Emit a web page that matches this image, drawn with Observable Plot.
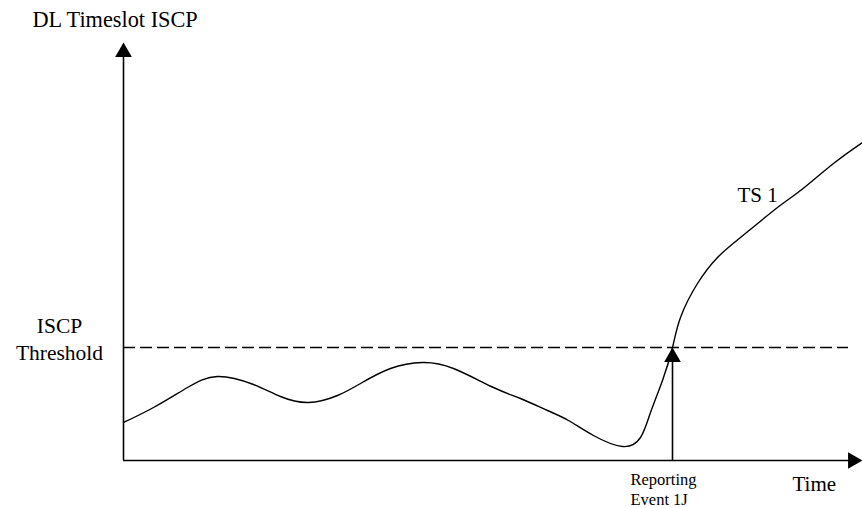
<!DOCTYPE html>
<html>
<head>
<meta charset="utf-8">
<script src="https://cdn.jsdelivr.net/npm/d3@7"></script>
<script src="https://cdn.jsdelivr.net/npm/@observablehq/plot@0.6"></script>
<style>
  html, body { margin: 0; padding: 0; background: #fff; }
  #chart svg { display: block; }
  #chart svg text { font-family: 'Liberation Serif', 'Times New Roman', serif; }
</style>
</head>
<body>
<div id="chart"></div>
<script>
// Time axis (arbitrary units) and DL timeslot ISCP (arbitrary units) for TS 1
const time = [0, 30, 64, 94, 130, 157, 185, 214, 237, 267, 299, 330, 370, 397, 424, 445, 470, 499, 517, 527, 539, 549, 557, 574, 594, 617, 654, 677, 710, 739];
const iscp = [38, 53, 73, 84, 76, 64, 58, 65, 77, 92, 98, 92, 73, 62, 50, 40, 25, 14, 23, 48, 80, 113, 143, 177, 203, 223, 253, 270, 297, 318];

const threshold = [113];       // ISCP threshold level
const thresholdEnd = [725];    // time where dashed line ends
const eventTime = [549];       // Reporting Event 1J
const axisEnd = {x: 739, y: 418};
const headLen = 9.6;           // centroid offset of arrow heads

const labels = {
  yTitle: "DL Timeslot ISCP",
  xTitle: "Time",
  threshold: "ISCP\nThreshold",
  series: "TS 1",
  event: "Reporting\nEvent 1J"
};

const curve = time.map((t, i) => ({t, v: iscp[i]}));
const font = "'Liberation Serif', 'Times New Roman', serif";

const plot = Plot.plot({
  width: 862,
  height: 508,
  margin: 0,
  x: {domain: [-123, 739], axis: null},
  y: {domain: [-48, 460], axis: null},
  style: {fontFamily: font, background: "#fff", color: "#000"},
  marks: [
    // axes
    Plot.ruleX([0], {y1: 0, y2: axisEnd.y - headLen, stroke: "#000", strokeWidth: 1.6}),
    Plot.ruleY([0], {x1: 0, x2: axisEnd.x - headLen, stroke: "#000", strokeWidth: 1.6}),
    Plot.dot([{x: 0, y: axisEnd.y - headLen}], {x: "x", y: "y", symbol: "triangle", r: 6.2, fill: "#000", stroke: null}),
    Plot.dot([{x: axisEnd.x - headLen, y: 0}], {x: "x", y: "y", symbol: "triangle", r: 6.2, fill: "#000", stroke: null, rotate: 90}),
    // threshold
    Plot.ruleY(threshold, {x1: 0, x2: thresholdEnd[0], stroke: "#000", strokeWidth: 1.3, strokeDasharray: "12,5"}),
    // reporting event arrow
    Plot.ruleX(eventTime, {y1: 0, y2: threshold[0] - headLen, stroke: "#000", strokeWidth: 1.6}),
    Plot.dot(eventTime.map(e => ({x: e, y: threshold[0] - headLen})), {x: "x", y: "y", symbol: "triangle", r: 6.2, fill: "#000", stroke: null}),
    // TS 1 curve
    Plot.line(curve, {x: "t", y: "v", curve: "natural", stroke: "#000", strokeWidth: 1.4}),
    // texts
    Plot.text([labels.yTitle], {x: -91, y: 440.7, textAnchor: "start", fontSize: 22.3, fontFamily: font, fill: "#000"}),
    Plot.text([labels.threshold], {x: -64, y: 122.5, textAnchor: "middle", fontSize: 21.5, lineHeight: 1.25, fontFamily: font, fill: "#000"}),
    Plot.text([labels.series], {x: 614, y: 265, textAnchor: "start", fontSize: 21, fontFamily: font, fill: "#000"}),
    Plot.text([labels.event], {x: 507, y: -28, textAnchor: "start", fontSize: 16.5, lineHeight: 1.2, fontFamily: font, fill: "#000"}),
    Plot.text([labels.xTitle], {x: 669, y: -23.3, textAnchor: "start", fontSize: 21, fontFamily: font, fill: "#000"})
  ]
});

document.getElementById("chart").appendChild(plot);
</script>
</body>
</html>
